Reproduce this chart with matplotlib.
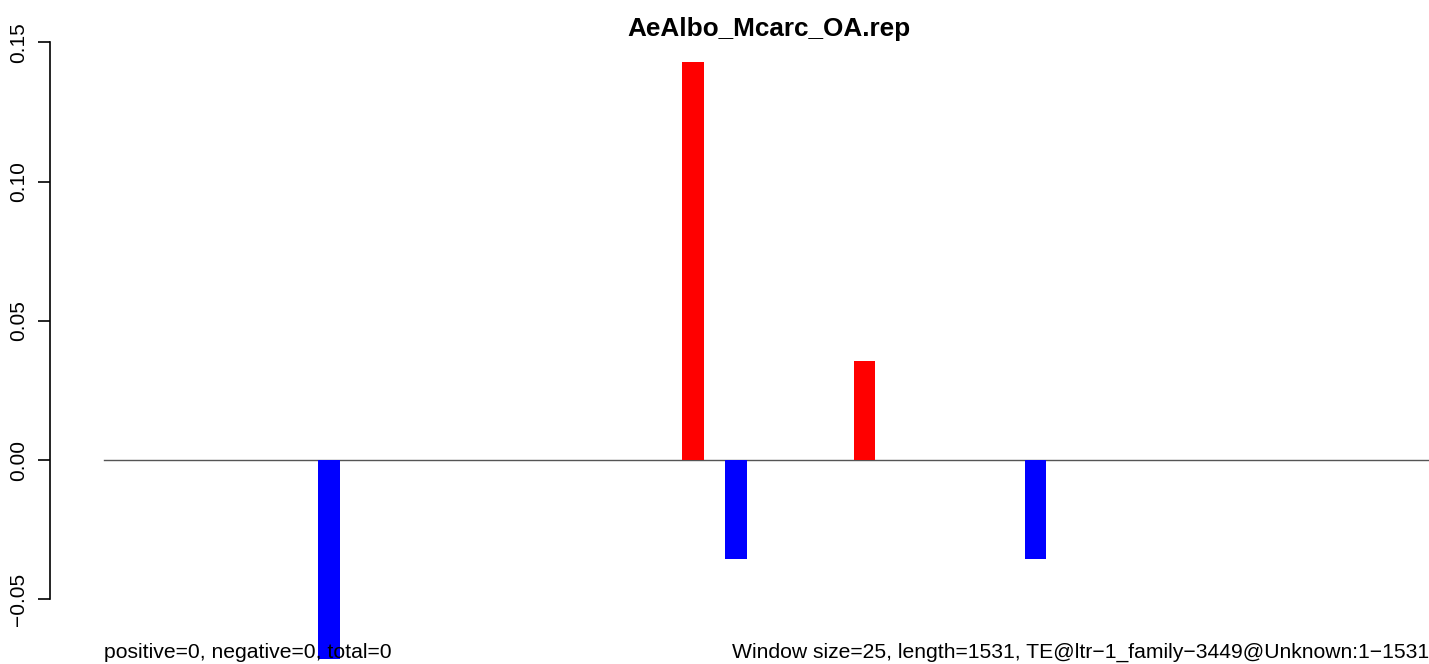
import matplotlib
matplotlib.use("Agg")
import matplotlib.pyplot as plt

plt.rcParams["font.family"] = ["Liberation Sans", "DejaVu Sans"]

title = "AeAlbo_Mcarc_OA.rep"
n_windows = 62
pos_idx = [27, 35]
pos_val = [0.1429, 0.0357]
neg_idx = [10, 29, 43]
neg_val = [-0.0714, -0.0357, -0.0357]
yticks = [-0.05, 0.00, 0.05, 0.10, 0.15]
ylabels = ["\u22120.05", "0.00", "0.05", "0.10", "0.15"]
left_note = "positive=0, negative=0, total=0"
right_note = "Window size=25, length=1531, TE@ltr\u22121_family\u22123449@Unknown:1\u22121531"

W, H = 1429, 664
fig = plt.figure(figsize=(W / 100, H / 100), dpi=100)
ax = fig.add_axes([0, 0, 1, 1])

# pixel mapping: x0=104px, 21.42 px per window; y zero at 460px, 2784 px per unit
ux = 21.42
ax.set_xlim(-104 / ux, (W - 104) / ux)
ax.set_ylim(-(H - 460) / 2784, 460 / 2784)

ax.plot([0, n_windows], [0, 0], color="#555555", lw=1, zorder=1)
ax.bar(pos_idx, pos_val, width=1, align="edge", color="#ff0000", zorder=2)
ax.bar(neg_idx, neg_val, width=1, align="edge", color="#0000ff", zorder=2)

for s in ["top", "right", "bottom"]:
    ax.spines[s].set_visible(False)
ax.spines["left"].set_position(("axes", 50 / W))
ax.spines["left"].set_bounds(-0.05, 0.15)
ax.spines["left"].set_linewidth(1.2)
ax.set_xticks([])
ax.set_yticks(yticks)
ax.set_yticklabels(ylabels, rotation=90, va="center", fontsize=15)
ax.tick_params(axis="y", length=9, width=1.2, pad=7)

fig.text(769 / W, 1 - 29 / H, title, ha="center", va="center",
         fontsize=18.8, fontweight="bold")
fig.text(104 / W, 1 - 652 / H, left_note, ha="left", va="center", fontsize=15.2)
fig.text(1429 / W, 1 - 652 / H, right_note, ha="right", va="center", fontsize=15.2)

fig.savefig("out.png", dpi=100)
